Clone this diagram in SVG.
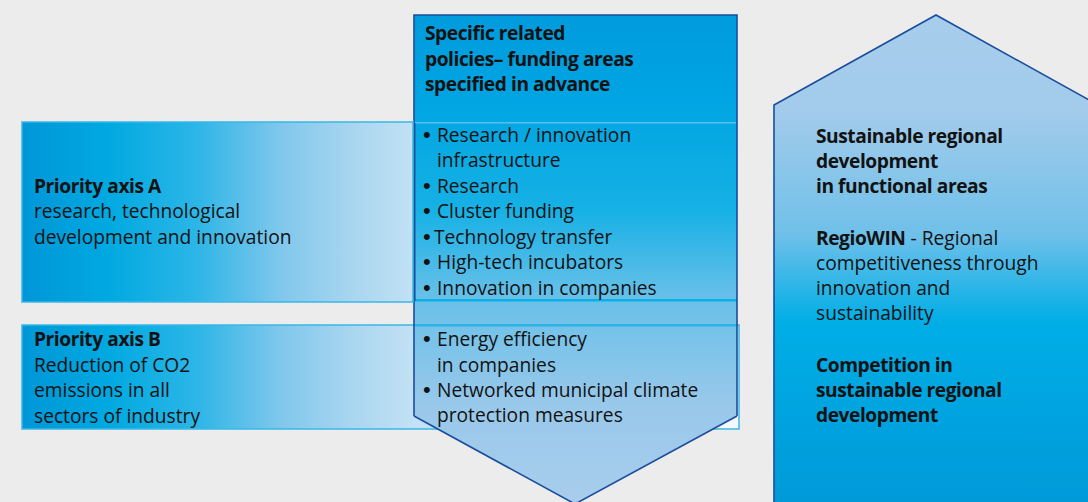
<svg xmlns="http://www.w3.org/2000/svg" width="1088" height="502" viewBox="0 0 1088 502">
<defs>
<linearGradient id="gA" x1="22" y1="0" x2="413" y2="0" gradientUnits="userSpaceOnUse">
<stop offset="0" stop-color="#0096d7"/>
<stop offset="0.22" stop-color="#00a9e1"/>
<stop offset="0.45" stop-color="#2db6e7"/>
<stop offset="0.66" stop-color="#80c7ec"/>
<stop offset="0.85" stop-color="#a9d6f0"/>
<stop offset="1" stop-color="#c2e1f4"/>
</linearGradient>
<linearGradient id="gB" x1="22" y1="0" x2="740" y2="0" gradientUnits="userSpaceOnUse">
<stop offset="0" stop-color="#0096d7"/>
<stop offset="0.12" stop-color="#00a9e1"/>
<stop offset="0.245" stop-color="#2db6e7"/>
<stop offset="0.36" stop-color="#80c7ec"/>
<stop offset="0.46" stop-color="#a9d6f0"/>
<stop offset="0.545" stop-color="#c2e1f4"/>
<stop offset="1" stop-color="#f4f9fc"/>
</linearGradient>
<linearGradient id="gC" x1="0" y1="15" x2="0" y2="502" gradientUnits="userSpaceOnUse">
<stop offset="0" stop-color="#009bdd"/>
<stop offset="0.18" stop-color="#00a5e2"/>
<stop offset="0.4" stop-color="#16b1e5"/>
<stop offset="0.58" stop-color="#68c0e9"/>
<stop offset="0.8" stop-color="#98c8ea"/>
<stop offset="1" stop-color="#a9cdec"/>
</linearGradient>
<linearGradient id="gR" x1="0" y1="15" x2="0" y2="502" gradientUnits="userSpaceOnUse">
<stop offset="0" stop-color="#a8cdec"/>
<stop offset="0.2" stop-color="#a2cbeb"/>
<stop offset="0.45" stop-color="#6fc0e9"/>
<stop offset="0.63" stop-color="#00aee6"/>
<stop offset="1" stop-color="#009ad9"/>
</linearGradient>
</defs>
<style>
text{font-family:"Open Sans","Liberation Sans",sans-serif;font-size:19.2px;fill:#121212}
.b{font-weight:bold;letter-spacing:-0.45px}
.d{font-family:"Liberation Sans",sans-serif;font-size:22px}
.edge{fill:none;stroke:#1a4e9c;stroke-width:1.6}
</style>
<rect width="1088" height="502" fill="#ebeceb"/>

<g id="axisB">
<rect x="22" y="325" width="717" height="104" fill="url(#gB)" stroke="#3ab6e8" stroke-width="1.5"/>
<text x="34" y="346" class="b">Priority axis B</text>
<text x="34" y="372">Reduction of CO2</text>
<text x="34" y="397">emissions in all</text>
<text x="34" y="423">sectors of industry</text>
</g>

<g id="policies">
<polygon points="414,15 737,15 737,416 575,504 414,416" fill="url(#gC)"/>
<rect x="414" y="122" width="323" height="1.5" fill="#6cc6ec" opacity="0.8"/>
<rect x="414" y="299" width="323" height="2.5" fill="#0aafe6"/>
<rect x="414" y="324" width="323" height="2.5" fill="#2db4e7"/>
<line x1="414.5" y1="123" x2="414.5" y2="301" stroke="#1f6db2" stroke-width="2.5"/>
<polyline class="edge" points="414,416 414,15 737,15 737,416"/>
<polyline class="edge" points="414,416 575,504 737,416"/>
<text x="425" y="40" class="b">Specific related</text>
<text x="425" y="66" class="b">policies– funding areas</text>
<text x="425" y="91" class="b">specified in advance</text>
<text y="142"><tspan x="423" class="d">•</tspan><tspan x="437">Research / innovation</tspan></text>
<text x="437" y="167">infrastructure</text>
<text y="193"><tspan x="423" class="d">•</tspan><tspan x="437">Research</tspan></text>
<text y="218"><tspan x="423" class="d">•</tspan><tspan x="437">Cluster funding</tspan></text>
<text y="244"><tspan x="423" class="d">•</tspan><tspan x="434">Technology transfer</tspan></text>
<text y="269"><tspan x="423" class="d">•</tspan><tspan x="437">High-tech incubators</tspan></text>
<text y="295"><tspan x="423" class="d">•</tspan><tspan x="437">Innovation in companies</tspan></text>
<text y="346"><tspan x="423" class="d">•</tspan><tspan x="437">Energy efficiency</tspan></text>
<text x="437" y="372">in companies</text>
<text y="397"><tspan x="423" class="d">•</tspan><tspan x="437">Networked municipal climate</tspan></text>
<text x="437" y="422">protection measures</text>
</g>

<g id="axisA">
<rect x="22" y="122" width="391" height="180" fill="url(#gA)" stroke="#3ab6e8" stroke-width="1.5"/>
<text x="34" y="193" class="b">Priority axis A</text>
<text x="34" y="218">research, technological</text>
<text x="34" y="244">development and innovation</text>
</g>

<g id="goal">
<polygon points="774,105 936,15 1098,105 1098,510 774,510" fill="url(#gR)"/>
<polyline class="edge" points="774,510 774,105 936,15 1098,105"/>
<text x="816" y="143" class="b">Sustainable regional</text>
<text x="816" y="168" class="b">development</text>
<text x="816" y="193" class="b">in functional areas</text>
<text x="816" y="245"><tspan class="b">RegioWIN</tspan> - Regional</text>
<text x="816" y="270">competitiveness through</text>
<text x="816" y="295">innovation and</text>
<text x="816" y="320">sustainability</text>
<text x="816" y="372" class="b">Competition in</text>
<text x="816" y="397" class="b">sustainable regional</text>
<text x="816" y="422" class="b">development</text>
</g>

<g id="connectors"></g>
</svg>
